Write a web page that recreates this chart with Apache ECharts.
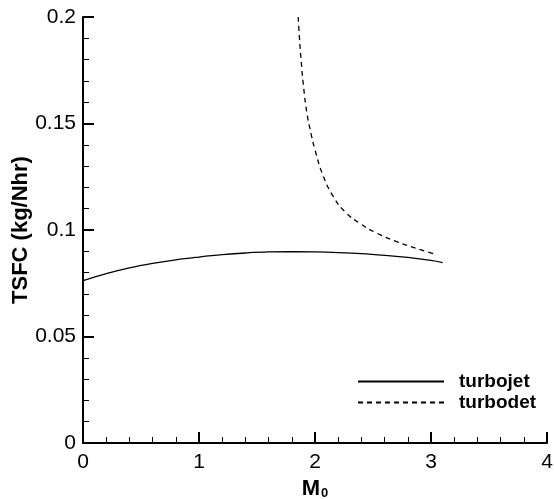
<!DOCTYPE html>
<html>
<head>
<meta charset="utf-8">
<script src="https://cdn.jsdelivr.net/npm/echarts@6/dist/echarts.min.js"></script>
<style>
  html, body { margin: 0; padding: 0; background: #fff; }
  #chart { width: 554px; height: 499px; }
</style>
</head>
<body>
<div id="chart"></div>
<script>
  // Mach number / TSFC
  var turbojetMach = [0, 0.2, 0.4, 0.6, 0.8, 1.0, 1.2, 1.4, 1.6, 1.8, 2.0, 2.2, 2.4, 2.6, 2.8, 3.0, 3.1];
  var turbojetTsfc = [0.0762, 0.0795, 0.0822, 0.0843, 0.0860, 0.0873, 0.0884, 0.0892, 0.0897, 0.0898, 0.0897, 0.0894, 0.0889, 0.0881, 0.0871, 0.0857, 0.0847];

  var turbodetMach = [1.855, 1.865, 1.88, 1.90, 1.93, 1.965, 2.00, 2.07, 2.16, 2.26, 2.39, 2.53, 2.71, 2.88, 3.05];
  var turbodetTsfc = [0.200, 0.191, 0.180, 0.168, 0.155, 0.1455, 0.1376, 0.1255, 0.1155, 0.1085, 0.1030, 0.0986, 0.0944, 0.0913, 0.0884];

  var seriesNames = ['turbojet', 'turbodet'];

  function pairs(xs, ys) {
    var out = [];
    for (var i = 0; i < xs.length; i++) {
      out.push([xs[i], ys[i]]);
    }
    return out;
  }

  var font = 'Liberation Sans, Arial, sans-serif';
  var myChart = echarts.init(document.getElementById('chart'));

  var axisCommon = {
    axisLine: { lineStyle: { color: '#000', width: 2 } },
    axisTick: { inside: true, length: 11, lineStyle: { color: '#000', width: 2 } },
    minorTick: { show: true, splitNumber: 5, length: 6, lineStyle: { color: '#000', width: 1 } },
    splitLine: { show: false }
  };

  var option = {
    animation: false,
    grid: { left: 83, right: 7, top: 17, bottom: 56, containLabel: false, outerBoundsMode: 'none' },
    legend: {
      orient: 'vertical',
      left: 352,
      top: 367,
      itemWidth: 86,
      itemHeight: 14,
      itemGap: 2,
      itemStyle: { opacity: 0 },
      textStyle: { color: '#000', fontSize: 19, fontWeight: 'bold', fontFamily: font, padding: [0, 0, 0, 10] },
      data: seriesNames
    },
    xAxis: Object.assign({}, axisCommon, {
      type: 'value',
      min: 0,
      max: 4,
      interval: 1,
      name: '{m|M}{s|0}',
      nameLocation: 'middle',
      nameGap: 35,
      nameMoveOverlap: false,
      nameTextStyle: {
        rich: {
          m: { fontSize: 22, fontWeight: 'bold', color: '#000', fontFamily: font },
          s: { fontSize: 13, fontWeight: 'bold', color: '#000', fontFamily: font, verticalAlign: 'bottom', padding: [9, 0, 0, 1] }
        }
      },
      axisLabel: { color: '#000', fontSize: 21, fontFamily: font, margin: 9 }
    }),
    yAxis: Object.assign({}, axisCommon, {
      type: 'value',
      min: 0,
      max: 0.2,
      interval: 0.05,
      name: 'TSFC (kg/Nhr)',
      nameLocation: 'middle',
      nameGap: 51,
      nameMoveOverlap: false,
      nameTextStyle: { color: '#000', fontSize: 22, fontWeight: 'bold', fontFamily: font },
      axisLabel: { color: '#000', fontSize: 21, fontFamily: font, margin: 7 }
    }),
    series: [{
      name: seriesNames[0],
      type: 'line',
      symbol: 'none',
      smooth: 0.4,
      lineStyle: { color: '#000', width: 1.3, type: 'solid' },
      itemStyle: { color: '#000' },
      data: pairs(turbojetMach, turbojetTsfc)
    }, {
      name: seriesNames[1],
      type: 'line',
      symbol: 'none',
      smooth: 0.5,
      lineStyle: { color: '#000', width: 1.3, type: [5, 4] },
      itemStyle: { color: '#000' },
      data: pairs(turbodetMach, turbodetTsfc)
    }]
  };

  myChart.setOption(option);
</script>
</body>
</html>
